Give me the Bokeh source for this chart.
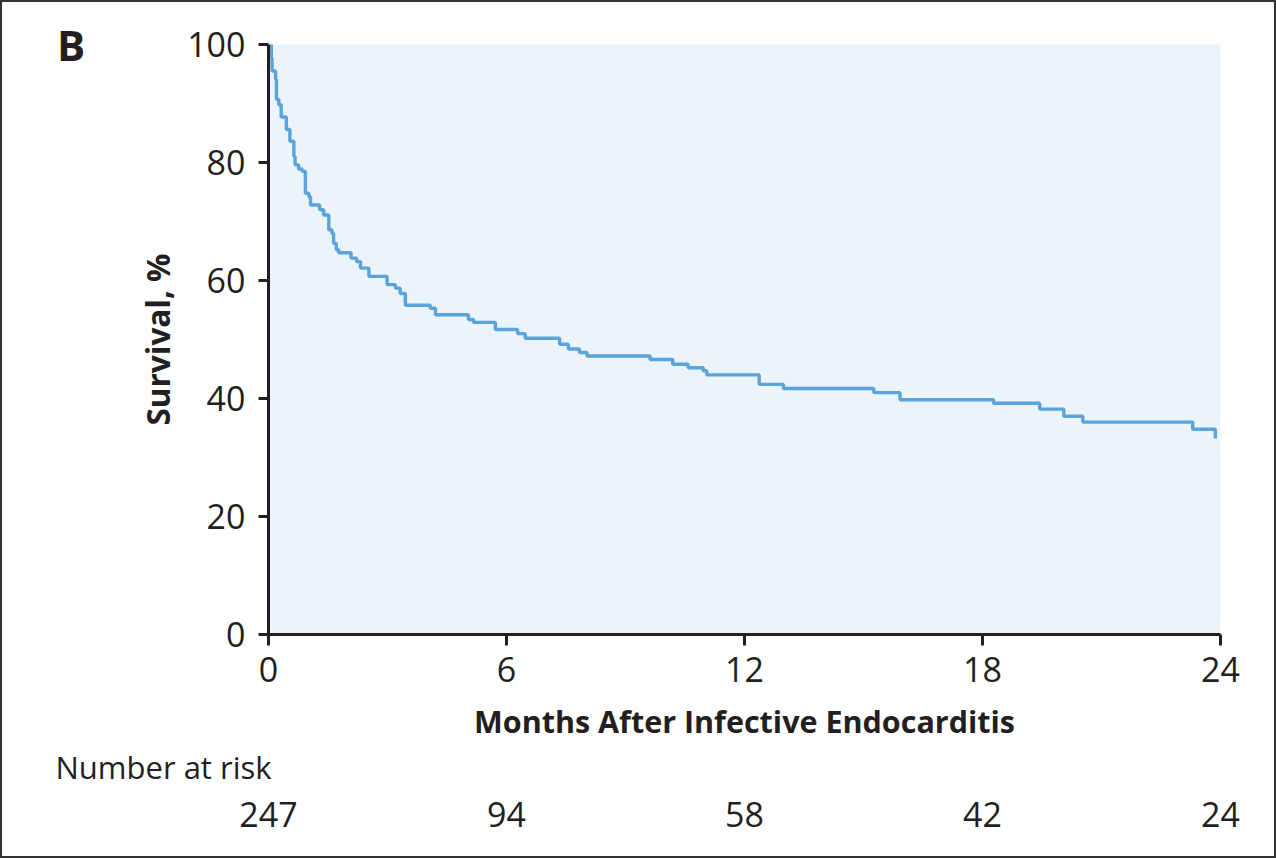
from bokeh.plotting import figure
from bokeh.models import Range1d, FixedTicker, ColumnDataSource
from bokeh.layouts import column, row
from bokeh.core.properties import value
from bokeh.embed import file_html
from bokeh.resources import INLINE

# ---- data ----
months = [0, 0.07, 0.09, 0.18, 0.20, 0.26, 0.32, 0.45, 0.54, 0.64, 0.67, 0.76, 0.85, 0.93,
          1.02, 1.06, 1.29, 1.39, 1.52, 1.60, 1.64, 1.71, 1.77, 2.08, 2.22, 2.32, 2.53,
          2.99, 3.20, 3.32, 3.45, 4.08, 4.21, 5.04, 5.17, 5.72, 6.28, 6.47, 7.34, 7.56,
          7.84, 8.03, 9.62, 10.19, 10.58, 10.96, 11.05, 12.37, 12.98, 15.26, 15.92, 18.28,
          19.44, 20.05, 20.53, 23.30, 23.87]
survival = [100, 97.7, 95.5, 94.1, 90.7, 89.8, 87.7, 85.6, 83.6, 81.0, 79.6, 78.9, 78.5, 74.8,
            74.2, 72.8, 72.0, 71.1, 68.6, 68.0, 66.3, 65.2, 64.7, 63.8, 63.2, 62.1, 60.7,
            59.3, 58.7, 57.8, 55.8, 55.3, 54.2, 53.4, 52.9, 51.7, 51.0, 50.2, 49.2, 48.4,
            47.8, 47.2, 46.6, 45.8, 45.2, 44.7, 44.0, 42.4, 41.7, 41.0, 39.8, 39.2, 38.2,
            37.0, 36.0, 34.8, 33.2]
x_ticks = [0, 6, 12, 18, 24]
y_ticks = [0, 20, 40, 60, 80, 100]
risk_times = [0, 6, 12, 18, 24]
risk_counts = [247, 94, 58, 42, 24]
panel_letter = "B"
risk_title = "Number at risk"

INK = "#231F20"
CURVE = "#5BA4DB"
BG = "#EBF3FB"
FONT = "Open Sans"

# layout geometry (pixels)
W_LETTER = 116
W_MAIN = 1156
H_MAIN = 743
H_RISK = 111
ML, MR, MT = 150, 54, 42
MB = H_MAIN - MT - 590
FRAME_W = W_MAIN - ML - MR
PX = FRAME_W / 24.0

# ---- panel letter ----
fb = figure(width=W_LETTER, height=H_MAIN, output_backend="svg", toolbar_location=None,
            x_range=Range1d(0, W_LETTER), y_range=Range1d(0, H_MAIN),
            x_axis_type=None, y_axis_type=None, frame_align=False,
            min_border=0, min_border_left=0, min_border_right=0,
            min_border_top=0, min_border_bottom=0)
fb.outline_line_color = None
fb.grid.visible = False
fb.text(x=[54.5], y=[H_MAIN - 42], text=[panel_letter], text_font=value(FONT),
        text_font_size="42px", text_font_style="bold", text_color=INK,
        text_baseline="alphabetic", text_align="left")

# ---- main chart ----
p = figure(width=W_MAIN, height=H_MAIN, output_backend="svg", toolbar_location=None,
           x_range=Range1d(0, 24), y_range=Range1d(0, 100), frame_align=False,
           min_border_left=ML, min_border_right=MR, min_border_top=MT, min_border_bottom=MB)
p.background_fill_color = BG
p.border_fill_color = "white"
p.outline_line_color = None
p.grid.visible = False

p.step(months, survival, mode="after", line_color=CURVE, line_width=3.4)

for ax in (p.xaxis[0], p.yaxis[0]):
    ax.axis_line_color = INK
    ax.axis_line_width = 3
    ax.major_tick_line_color = INK
    ax.major_tick_line_width = 3
    ax.major_tick_in = 0
    ax.minor_tick_line_color = None
    ax.major_label_text_font = FONT
    ax.major_label_text_font_size = "34px"
    ax.major_label_text_color = INK
    ax.axis_label_text_font = FONT
    ax.axis_label_text_font_style = "bold"
    ax.axis_label_text_color = INK

p.xaxis.ticker = FixedTicker(ticks=x_ticks)
p.yaxis.ticker = FixedTicker(ticks=y_ticks)
p.xaxis.major_tick_out = 11
p.yaxis.major_tick_out = 10
p.xaxis.major_label_standoff = 11
p.yaxis.major_label_standoff = 13
p.xaxis.axis_label = "Months After Infective Endocarditis"
p.yaxis.axis_label = "Survival, %"
p.xaxis.axis_label_text_font_size = "30.5px"
p.yaxis.axis_label_text_font_size = "31.5px"
p.xaxis.axis_label_standoff = 15
p.yaxis.axis_label_standoff = 5

# ---- number at risk ----
left_off = 2 + W_LETTER + ML - 2  # pixels from risk-frame left edge to x=0
q = figure(width=W_LETTER + W_MAIN, height=H_RISK, output_backend="svg", toolbar_location=None,
           x_range=Range1d(-left_off / PX, 24 + MR / PX), y_range=Range1d(0, H_RISK),
           x_axis_type=None, y_axis_type=None, frame_align=False,
           min_border=0, min_border_left=0, min_border_right=0,
           min_border_top=0, min_border_bottom=0)
q.outline_line_color = None
q.grid.visible = False
q.text(x=[-(268 - 55) / PX], y=[90], text=[risk_title], text_font=value(FONT),
       text_font_size="31px", text_color=INK, text_baseline="alphabetic", text_align="left")
src = ColumnDataSource(dict(x=risk_times, y=[42] * len(risk_times),
                            t=[str(c) for c in risk_counts]))
q.text(x="x", y="y", text="t", source=src, text_font=value(FONT), text_font_size="34px",
       text_color=INK, text_align="center", text_baseline="alphabetic")

layout = column(row(fb, p), q, styles={"border": "2px solid #333333"})
open("out.html", "w").write(file_html(layout, INLINE))
